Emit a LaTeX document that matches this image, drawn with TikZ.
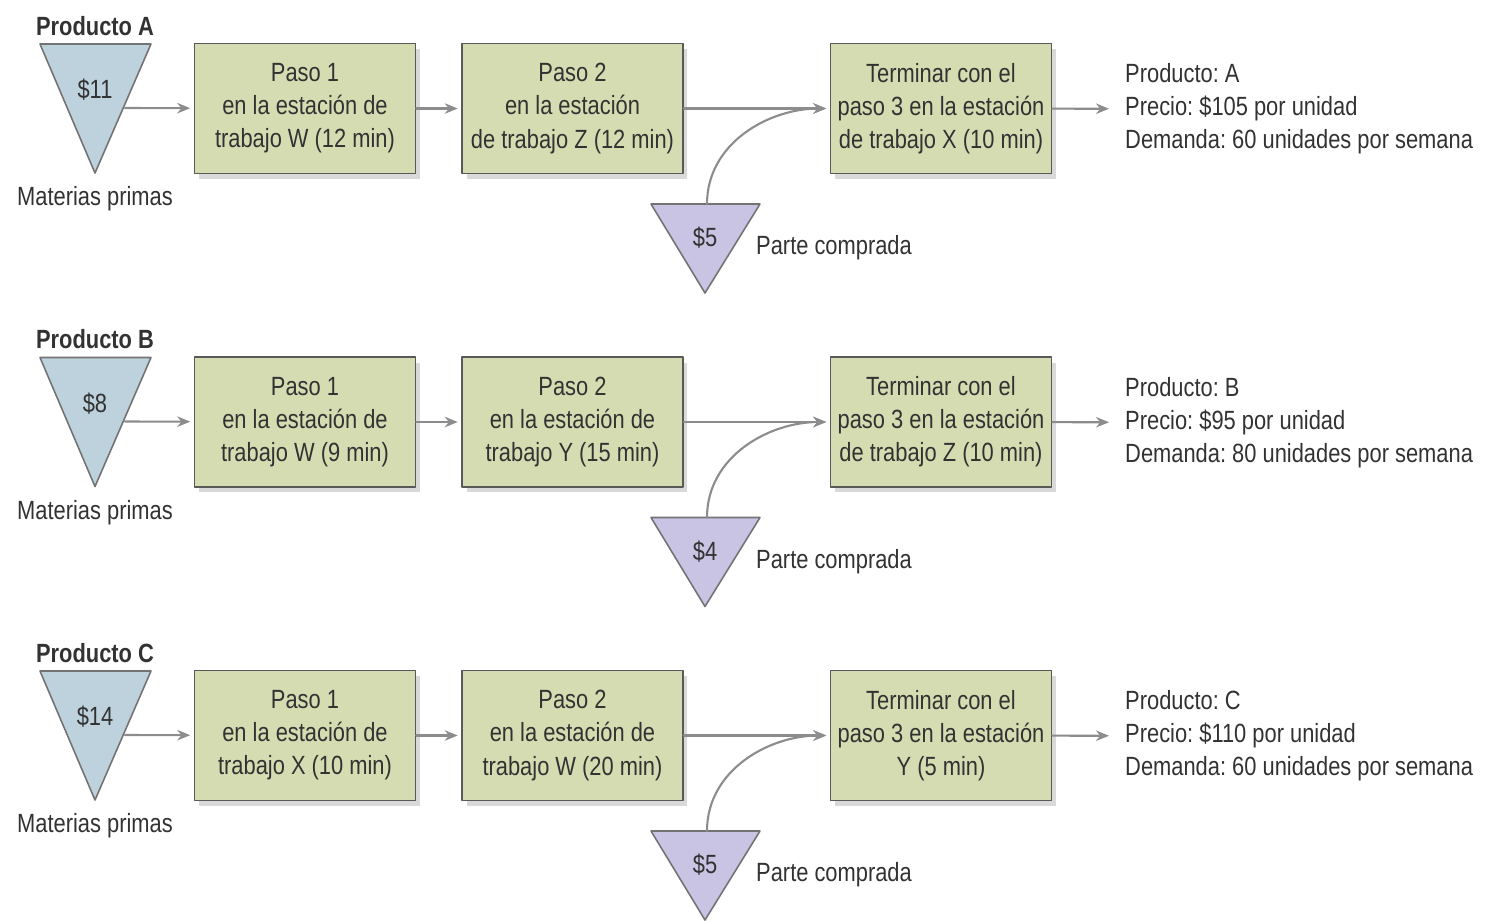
\documentclass[tikz,border=0pt]{standalone}
\usepackage{fontspec}
\setmainfont{Liberation Sans}[FakeStretch=0.83]
\usetikzlibrary{shadows,arrows.meta}
\definecolor{caja}{RGB}{214,220,178}
\definecolor{azul}{RGB}{190,210,222}
\definecolor{lila}{RGB}{202,196,228}
\definecolor{flecha}{RGB}{140,140,140}
\definecolor{texto}{RGB}{50,50,50}
\tikzset{
	paso/.style={draw=black!65, fill=caja, line width=0.9pt, minimum width=4.42cm, minimum height=2.6cm, align=center,
		drop shadow={shadow xshift=0.09cm, shadow yshift=-0.11cm, fill=black!25, opacity=0.6}},
	flujo/.style={->, color=flecha, line width=1.2pt, shorten >=2pt},
	materia/.style={draw=black!55, fill=azul, line width=0.9pt},
	compra/.style={draw=black!55, fill=lila, line width=0.9pt},
	titulo/.style={font=\bfseries\fontsize{15}{18}\selectfont}
}
\begin{document}
\frenchspacing
\begin{tikzpicture}[x=0.02cm, y=-0.02cm, >={Stealth[length=2.6mm,width=2.1mm]}, font=\fontsize{15}{18.8}\selectfont, text=texto, line join=round, line cap=round]
	\useasboundingbox (0,0) rectangle (1505,921);
	\foreach \r/\dy/\mp/\uno/\dos/\tres/\pc/\info in {
		A/0/11/{Paso 1\\en la estación de\\trabajo W (12 min)}/{Paso 2\\en la estación\\de trabajo Z (12 min)}/{Terminar con el\\paso 3 en la estación\\de trabajo X (10 min)}/5/{Producto: A\\Precio: \$105 por unidad\\Demanda: 60 unidades por semana},
		B/313.5/8/{Paso 1\\en la estación de\\trabajo W (9 min)}/{Paso 2\\en la estación de\\trabajo Y (15 min)}/{Terminar con el\\paso 3 en la estación\\de trabajo Z (10 min)}/4/{Producto: B\\Precio: \$95 por unidad\\Demanda: 80 unidades por semana},
		C/627/14/{Paso 1\\en la estación de\\trabajo X (10 min)}/{Paso 2\\en la estación de\\trabajo W (20 min)}/{Terminar con el\\paso 3 en la estación\\Y (5 min)}/5/{Producto: C\\Precio: \$110 por unidad\\Demanda: 60 unidades por semana}}
	{
		\node[titulo] (prod\r) at (95,26+\dy) {Producto \r};
		\draw[materia] (40,44+\dy) -- (151,44+\dy) -- (95,173+\dy) -- cycle;
		\node (mp\r) at (95,90+\dy) {\$\mp};
		\node (mt\r) at (95,199+\dy) {Materias primas};
		\coordinate (sal\r) at (125,108+\dy);
		\node[paso] (p1\r) at (305,108.5+\dy) {\uno};
		\node[paso] (p2\r) at (572.5,108.5+\dy) {\dos};
		\node[paso] (p3\r) at (941,108.5+\dy) {\tres};
		\draw[compra] (651,204+\dy) -- (760,204+\dy) -- (705,293+\dy) -- cycle;
		\node (pc\r) at (705,238+\dy) {\$\pc};
		\node[right] (pt\r) at (750,248+\dy) {Parte comprada};
		\coordinate (ent\r) at (707,204+\dy);
		\node[right, align=left] (inf\r) at (1119,109+\dy) {\info};
		\draw[flujo] (sal\r) -- (p1\r);
		\draw[flujo] (p1\r) -- (p2\r);
		\draw[flujo] (p2\r) -- (p3\r);
		\draw[flujo] (ent\r) to[out=90,in=180] (p3\r.west);
		\draw[flujo, shorten >=0.2cm] (p3\r) -- (inf\r);
	}
\end{tikzpicture}
\end{document}
